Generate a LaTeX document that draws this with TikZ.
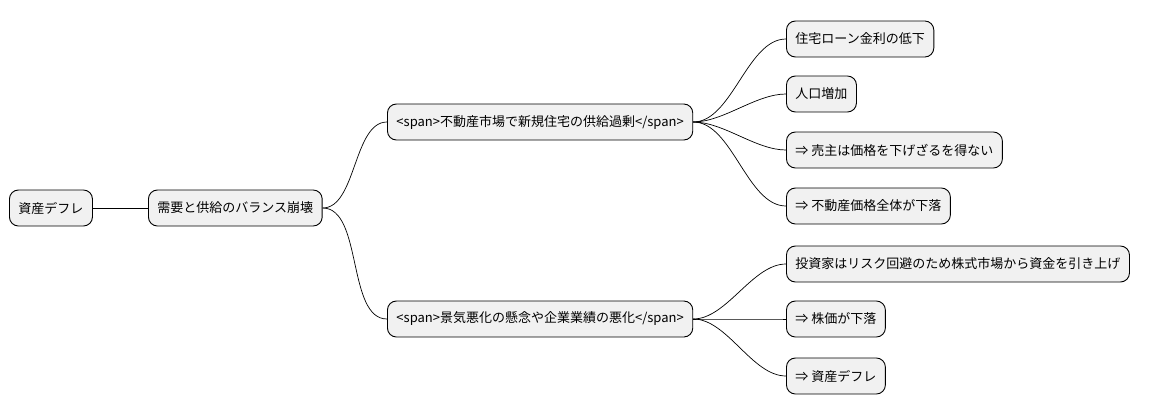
\documentclass[tikz,border=0pt]{standalone}
\usepackage{fontspec}
\setmainfont{Noto Sans CJK JP}
\begin{document}
\begin{tikzpicture}[x=1pt,y=-1pt,
  topic/.style={draw, line width=0.9pt, fill={rgb,255:red,241;green,241;blue,241}, rounded corners=9pt, anchor=west, minimum height=36pt, inner xsep=9pt, font=\fontsize{13}{15}\selectfont},
  link/.style={line width=0.7pt, out=0, in=180, looseness=0.8}]
\useasboundingbox (0,0) rectangle (1167,415);

% root and first level
\node[topic] (root) at (9,208) {資産デフレ};
\node[topic] (balance) at (148,208) {需要と供給のバランス崩壊};

% second level
\node[topic] (supply) at (387,122) {<span>不動産市場で新規住宅の供給過剰</span>};
\node[topic] (economy) at (387,319) {<span>景気悪化の懸念や企業業績の悪化</span>};

% leaves
\node[topic] (loan) at (786,39) {住宅ローン金利の低下};
\node[topic] (people) at (786,94) {人口増加};
\node[topic] (seller) at (786,150) {⇒ 売主は価格を下げざるを得ない};
\node[topic] (price) at (786,206) {⇒ 不動産価格全体が下落};
\node[topic] (investor) at (786,264) {投資家はリスク回避のため株式市場から資金を引き上げ};
\node[topic] (stock) at (786,319) {⇒ 株価が下落};
\node[topic] (deflation) at (786,376) {⇒ 資産デフレ};

% connectors
\draw[link] (root.east) -- (balance.west);
\foreach \child in {supply,economy}
  \draw[link] (balance.east) to (\child.west);
\foreach \child in {loan,people,seller,price}
  \draw[link] (supply.east) to (\child.west);
\foreach \child in {investor,stock,deflation}
  \draw[link] (economy.east) to (\child.west);
\end{tikzpicture}
\end{document}
